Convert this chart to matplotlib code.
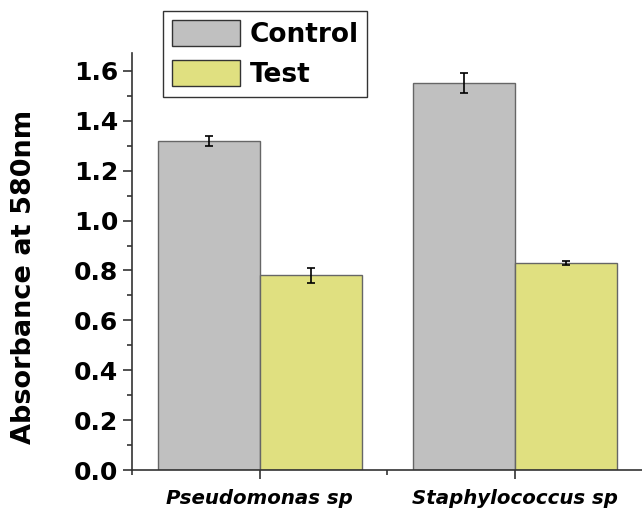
import matplotlib.pyplot as plt
import matplotlib.patches as mpatches
from matplotlib.ticker import MultipleLocator, FixedLocator
import numpy as np

plt.rcParams['font.family'] = ['DejaVu Sans']

#######################################################
# Data
#######################################################
groups = ['Pseudomonas sp', 'Staphylococcus sp']
control = [1.32, 1.55]
control_err = [0.02, 0.04]
test = [0.78, 0.83]
test_err = [0.03, 0.01]

grey = '#c0c0c0'
yellow = '#e0e080'

#######################################################
# Plot
#######################################################
fig = plt.figure(figsize=(6.42, 5.08), dpi=100)
ax = fig.add_axes([132 / 642, 38 / 508, 510 / 642, 417 / 508])

x = np.arange(1, len(groups) + 1)
w = 0.4
err_style = dict(ecolor='black', elinewidth=1.2, capsize=3.2, capthick=1.2)
ax.bar(x - w / 2, control, w, yerr=control_err, color=grey, edgecolor='#666666', linewidth=1,
       error_kw=err_style)
ax.bar(x + w / 2, test, w, yerr=test_err, color=yellow, edgecolor='#666666', linewidth=1,
       error_kw=err_style)

ax.set_xlim(0.5, 2.5)
ax.set_ylim(0, 1.672)
ax.set_xticks(x)
ax.set_xticklabels(groups, fontsize=14.2, fontweight='bold', fontstyle='italic')
ax.xaxis.set_minor_locator(FixedLocator([0.5, 1.5]))
ax.yaxis.set_major_locator(MultipleLocator(0.2))
ax.yaxis.set_minor_locator(MultipleLocator(0.1))
ax.set_yticklabels([f'{v:.1f}' for v in ax.get_yticks()], fontsize=18, fontweight='bold')
ax.tick_params(axis='both', which='major', direction='out', length=6.5, width=1.2, color='#333333')
ax.tick_params(axis='both', which='minor', direction='out', length=3.5, width=1.2, color='#333333')
ax.tick_params(axis='x', pad=7)

for s in ['top', 'right']:
    ax.spines[s].set_visible(False)
for s in ['left', 'bottom']:
    ax.spines[s].set_linewidth(1.2)
    ax.spines[s].set_color('#333333')

ax.set_ylabel('Absorbance at 580nm', fontsize=19.5, fontweight='bold')
ax.yaxis.set_label_coords(-0.186, 0.464)

grey_patch = mpatches.Patch(facecolor=grey, edgecolor='#333333', label='Control')
yellow_patch = mpatches.Patch(facecolor=yellow, edgecolor='#333333', label='Test')
leg = fig.legend(handles=[grey_patch, yellow_patch], loc='upper left',
                 bbox_to_anchor=(163 / 642, 1 - 11 / 508), borderaxespad=0,
                 prop={'size': 19, 'weight': 'bold'}, fancybox=False,
                 edgecolor='#333333', framealpha=1, handlelength=2.6, handleheight=1.17,
                 handletextpad=0.35, labelspacing=0.45, borderpad=0.33)
leg.get_frame().set_linewidth(1)

fig.savefig('out.png', dpi=100)
